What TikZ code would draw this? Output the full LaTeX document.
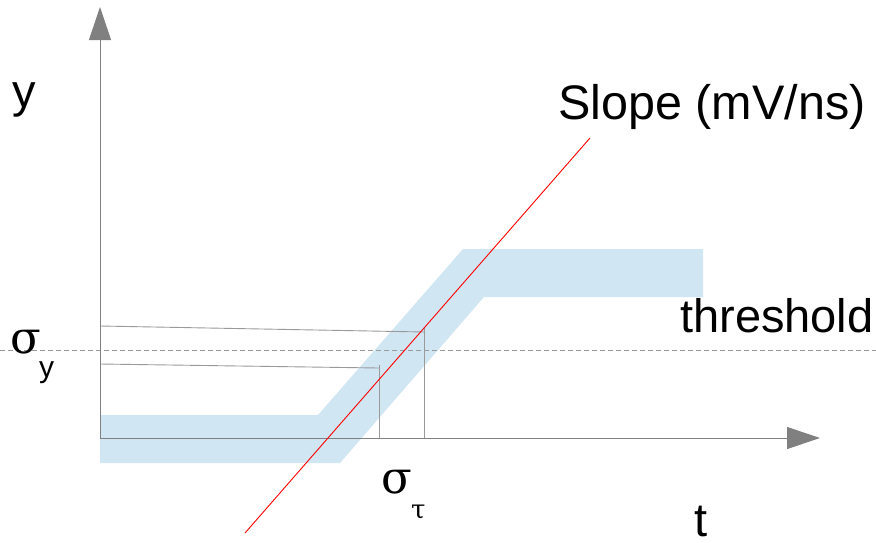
\documentclass[tikz,border=0pt]{standalone}
\usepackage{fontspec}
\setmainfont{Liberation Sans}
\newfontfamily\grk{DejaVu Serif}
\usetikzlibrary{arrows.meta}
\definecolor{bandblue}{HTML}{D0E6F3}
\definecolor{axisgray}{HTML}{808080}
\definecolor{thingray}{HTML}{9A9A9A}
\tikzset{
  axisline/.style={draw=axisgray, line width=1pt, -{Triangle[length=33pt,width=22pt]}},
  guide/.style={draw=thingray, line width=0.9pt},
  thr/.style={draw=thingray, line width=0.8pt, dash pattern=on 5pt off 3pt},
  slope/.style={draw=red, line width=0.9pt},
  lbl/.style={inner sep=0pt, anchor=base west, font=\fontsize{47}{50}\selectfont},
  sig/.style={inner sep=0pt, anchor=base west, font=\grk\fontsize{45}{48}\selectfont}
}
\begin{document}
\begin{tikzpicture}[x=1pt,y=-1pt]
\useasboundingbox (0,0) rectangle (876,542);
% band
\fill[bandblue] (100,415) -- (318,415) -- (463,249) -- (703,249) -- (703,297) -- (484,297) -- (340,463) -- (100,463) -- cycle;
% coordinates
\coordinate (O) at (100,438);
\coordinate (ytip) at (100,7);
\coordinate (xtip) at (820,438);
\coordinate (thrL) at (0,350);
\coordinate (thrR) at (876,350);
\coordinate (s1) at (245,533);
\coordinate (s2) at (590,138);
\coordinate (u1) at (100,326);
\coordinate (u2) at (424,332);
\coordinate (u3) at (424,327);
\coordinate (u4) at (424,438);
\coordinate (l1) at (100,364);
\coordinate (l2) at (379,368);
\coordinate (l3) at (379,365);
\coordinate (l4) at (379,438);
% threshold dashed line
\draw[thr] (thrL) -- (thrR);
% guide lines
\draw[guide] (u1) -- (u2);
\draw[guide] (u3) -- (u4);
\draw[guide] (l1) -- (l2);
\draw[guide] (l3) -- (l4);
% axes
\draw[axisline] (O) -- (ytip);
\draw[axisline] (O) -- (xtip);
% slope line
\draw[slope] (s1) -- (s2);
% labels
\node[lbl] (ylab) at (12,107) {y};
\node[lbl] (tlab) at (694,536) {t};
\node[lbl, font=\fontsize{48.5}{50}\selectfont] (slopelab) at (558,119) {Slope (mV/ns)};
\node[lbl] (thrlab) at (680,332) {threshold};
\node[sig] (sy) at (10,353) {σ};
\node[lbl, font=\fontsize{30}{32}\selectfont] (sysub) at (39,377) {y};
\node[sig] (st) at (381,493) {σ};
\node[inner sep=0pt, anchor=base west, font=\grk\fontsize{26}{28}\selectfont] (stsub) at (411,518) {τ};
\end{tikzpicture}
\end{document}
